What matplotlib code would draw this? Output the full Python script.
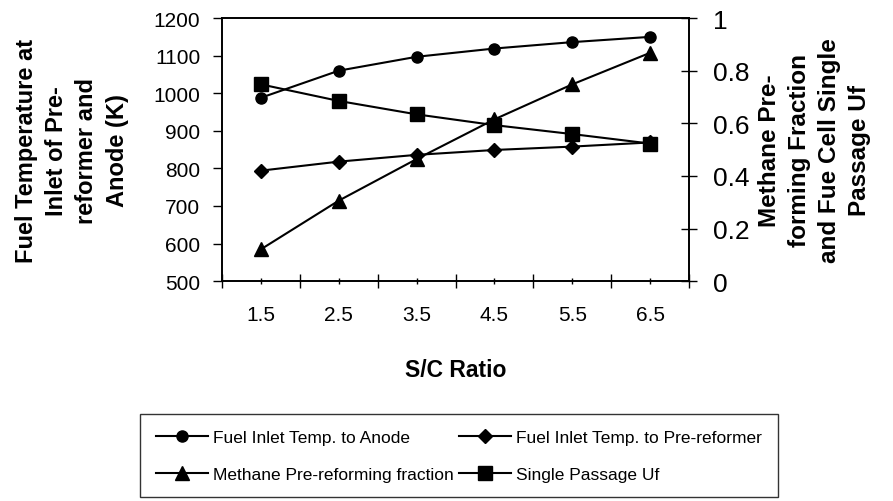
import matplotlib
matplotlib.use("Agg")
import matplotlib.pyplot as plt

# S/C ratio categories
sc_ratio = ["1.5", "2.5", "3.5", "4.5", "5.5", "6.5"]

# left axis (K)
anode_temp = [988, 1060, 1097, 1119, 1136, 1150]
prereformer_temp = [794, 818, 836, 849, 858, 869]

# right axis (fraction)
prereforming_frac = [0.121, 0.306, 0.464, 0.615, 0.748, 0.868]
single_pass_uf = [0.748, 0.685, 0.634, 0.593, 0.559, 0.523]

plt.rcParams["font.family"] = ["Liberation Sans", "DejaVu Sans"]

fig = plt.figure(figsize=(8.93, 5.02), dpi=100)
ax = fig.add_axes([0.2486, 0.438, 0.523, 0.524])
ax2 = ax.twinx()

xs = list(range(len(sc_ratio)))
kw = dict(color="black", linewidth=1.5, markerfacecolor="black", markeredgecolor="black")
l1, = ax.plot(xs, anode_temp, marker="o", markersize=8, label="Fuel Inlet Temp. to Anode", **kw)
l2, = ax.plot(xs, prereformer_temp, marker="D", markersize=7, label="Fuel Inlet Temp. to Pre-reformer", **kw)
l3, = ax2.plot(xs, prereforming_frac, marker="^", markersize=10, label="Methane Pre-reforming fraction", **kw)
l4, = ax2.plot(xs, single_pass_uf, marker="s", markersize=10, label="Single Passage Uf", **kw)

ax.set_xlim(-0.5, len(sc_ratio) - 0.5)
ax.set_ylim(500, 1200)
ax.set_yticks(range(500, 1201, 100))
ax2.set_ylim(0, 1)
ax2.set_yticks([0, 0.2, 0.4, 0.6, 0.8, 1])
ax2.set_yticklabels(["0", "0.2", "0.4", "0.6", "0.8", "1"])

# category axis: ticks between categories, labels at the centres
ax.set_xticks([x - 0.5 for x in range(len(sc_ratio) + 1)])
ax.set_xticklabels([])
ax.set_xticks(xs, minor=True)
ax.set_xticklabels(sc_ratio, minor=True)
ax.tick_params(axis="x", which="major", direction="inout", length=10, width=1)
ax.tick_params(axis="x", which="minor", direction="inout", length=5, width=1, labelsize=15, pad=15)
ax.tick_params(axis="y", direction="out", length=6.5, width=1, labelsize=15, pad=9)
ax2.tick_params(axis="y", direction="inout", length=12, width=1, labelsize=19, pad=11)

for a in (ax, ax2):
    for s in a.spines.values():
        s.set_linewidth(1.2)

ax.set_xlabel("S/C Ratio", fontsize=16.5, fontweight="bold", labelpad=24)
ax.set_ylabel("Fuel Temperature at\nInlet of Pre-\nreformer and\nAnode (K)",
              fontsize=17, fontweight="bold", linespacing=1.4, labelpad=18)
ax2.set_ylabel("Methane Pre-\nforming Fraction\nand Fue Cell Single\nPassage Uf",
               fontsize=17.5, fontweight="bold", linespacing=1.4, rotation=90, labelpad=6)

leg = fig.legend(handles=[l1, l3, l2, l4], ncol=2, loc="upper left",
                 bbox_to_anchor=(0.157, 0.173), bbox_transform=fig.transFigure,
                 borderaxespad=0, fontsize=12.5, handlelength=3.0, handletextpad=0.3,
                 columnspacing=0.3, labelspacing=1.25, fancybox=False, frameon=True,
                 borderpad=0.9)
leg.get_frame().set_edgecolor("black")
leg.get_frame().set_linewidth(1.0)

fig.savefig("out.png", dpi=100)
